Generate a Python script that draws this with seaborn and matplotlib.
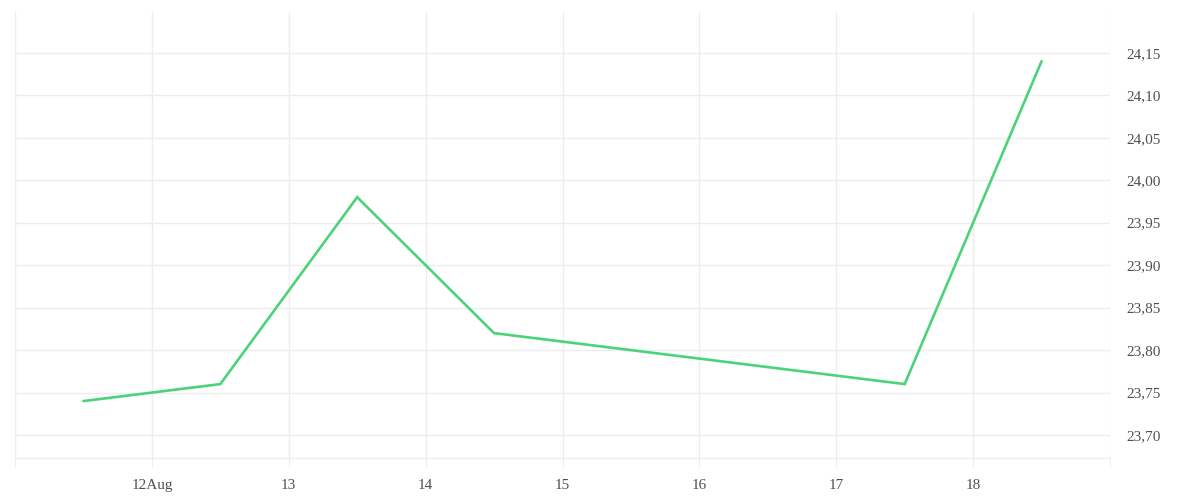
import pandas as pd
import numpy as np
import matplotlib
matplotlib.use("Agg")
import matplotlib.pyplot as plt
import matplotlib.dates as mdates
import seaborn as sns

# ── Data ──────────────────────────────────────────────────────────────────────
DATES  = ["2023-08-11 12:00", "2023-08-12 12:00", "2023-08-13 12:00",
          "2023-08-14 12:00", "2023-08-17 12:00", "2023-08-18 12:00"]
VALUES = [23.74, 23.76, 23.98, 23.82, 23.76, 24.14]

TICK_DAYS   = ["2023-08-11", "2023-08-12", "2023-08-13", "2023-08-14", "2023-08-15",
               "2023-08-16", "2023-08-17", "2023-08-18", "2023-08-19"]
TICK_LABELS = ["", "12Aug", "13", "14", "15", "16", "17", "18", ""]
Y_TICKS     = [23.70, 23.75, 23.80, 23.85, 23.90, 23.95, 24.00, 24.05, 24.10, 24.15]

LINE_COLOR = "#4cd37a"
GRID_COLOR = "#ededed"
TEXT_COLOR = "#505050"

# ── Style ─────────────────────────────────────────────────────────────────────
sns.set_style("white")
plt.rcParams["font.family"] = ["Liberation Serif", "DejaVu Serif"]
plt.rcParams["font.size"] = 11

df = pd.DataFrame({"date": pd.to_datetime(DATES), "value": VALUES})

fig = plt.figure(figsize=(12, 5), dpi=100)
ax = fig.add_axes([15 / 1200, 42 / 500, 1095 / 1200, 446 / 500])

sns.lineplot(data=df, x="date", y="value", ax=ax, color=LINE_COLOR,
             linewidth=1.9, solid_joinstyle="miter")

ticks = mdates.date2num(pd.to_datetime(TICK_DAYS))
ax.set_xlim(ticks[0], ticks[-1])
ax.set_xticks(ticks)
ax.set_xticklabels(TICK_LABELS)
ax.set_ylim(23.673, 24.198)
ax.set_yticks(Y_TICKS)
ax.set_yticklabels([f"{v:.2f}".replace(".", ",") for v in Y_TICKS])

ax.yaxis.tick_right()
ax.tick_params(axis="y", length=0, pad=12, colors=TEXT_COLOR, labelsize=11)
ax.tick_params(axis="x", bottom=True, length=6.5, width=0.75, color=GRID_COLOR,
               pad=8.5, labelcolor=TEXT_COLOR, labelsize=11)
ax.grid(True, color=GRID_COLOR, linewidth=1)
ax.set_axisbelow(True)
for side in ["top", "left", "right"]:
    ax.spines[side].set_visible(False)
ax.spines["bottom"].set_color(GRID_COLOR)
ax.spines["bottom"].set_linewidth(1)
ax.set_xlabel("")
ax.set_ylabel("")

fig.savefig("out.png", dpi=100, facecolor="white")
